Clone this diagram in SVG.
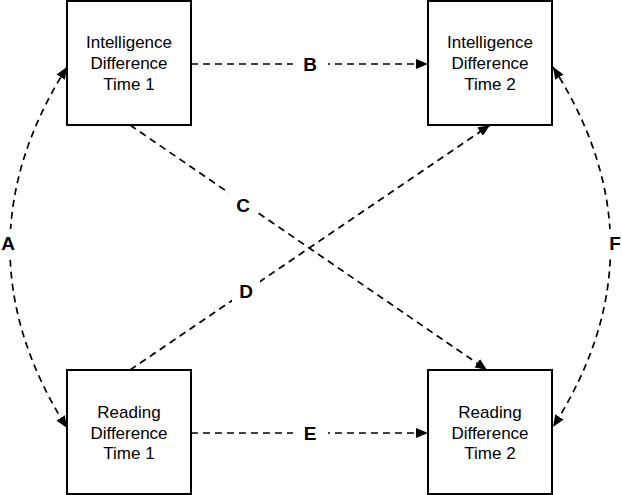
<svg xmlns="http://www.w3.org/2000/svg" width="622" height="495" viewBox="0 0 622 495">
<defs>
<marker id="ah" viewBox="0 0 12 10" refX="12" refY="5" markerWidth="12" markerHeight="10" markerUnits="userSpaceOnUse" orient="auto-start-reverse">
<path d="M0,0 L12,5 L0,10 Z" fill="#000"/>
</marker>
<style>
.box{fill:#fff;stroke:#000;stroke-width:2}
.t{font-family:"Liberation Sans",Arial,sans-serif;font-size:17px;text-anchor:middle;fill:#000}
.lbl{font-family:"Liberation Sans",Arial,sans-serif;font-size:19px;font-weight:bold;text-anchor:middle;fill:#000}
.c{fill:none;stroke:#000;stroke-width:1.7;stroke-dasharray:7 5}
.bg{fill:#fff}
</style>
</defs>
<rect width="622" height="495" fill="#fff"/>
<g id="connectors">
<path class="c" d="M191,64 L428,64" marker-end="url(#ah)"/>
<path class="c" d="M191,433 L428,433" marker-end="url(#ah)"/>
<path class="c" d="M130,125 L487,370" marker-end="url(#ah)"/>
<path class="c" d="M130,370 L490,125" marker-end="url(#ah)"/>
<path class="c" d="M67,67 Q-47,247.5 67,428" marker-start="url(#ah)" marker-end="url(#ah)"/>
<path class="c" d="M553,67 Q668,247 553,427" marker-start="url(#ah)" marker-end="url(#ah)"/>
<rect class="bg" x="293" y="52" width="35" height="24"/>
<text class="lbl" x="310" y="71">B</text>
<rect class="bg" x="293" y="421" width="35" height="24"/>
<text class="lbl" x="310" y="440">E</text>
<rect class="bg" x="229" y="192" width="28" height="26"/>
<text class="lbl" x="243" y="212">C</text>
<rect class="bg" x="232" y="278" width="28" height="26"/>
<text class="lbl" x="246" y="298">D</text>
<rect class="bg" x="0" y="229" width="18" height="28"/>
<text class="lbl" x="8" y="250">A</text>
<rect class="bg" x="605" y="229" width="18" height="28"/>
<text class="lbl" x="615" y="250">F</text>
</g>
<g id="int1">
<rect class="box" x="67" y="1" width="124" height="124"/>
<text class="t" x="129" y="48">Intelligence</text>
<text class="t" x="129" y="69">Difference</text>
<text class="t" x="129" y="90">Time 1</text>
</g>
<g id="int2">
<rect class="box" x="428" y="1" width="124" height="124"/>
<text class="t" x="490" y="48">Intelligence</text>
<text class="t" x="490" y="69">Difference</text>
<text class="t" x="490" y="90">Time 2</text>
</g>
<g id="read1">
<rect class="box" x="67" y="370" width="124" height="124"/>
<text class="t" x="129" y="418">Reading</text>
<text class="t" x="129" y="438.5">Difference</text>
<text class="t" x="129" y="459">Time 1</text>
</g>
<g id="read2">
<rect class="box" x="428" y="370" width="124" height="124"/>
<text class="t" x="490" y="418">Reading</text>
<text class="t" x="490" y="438.5">Difference</text>
<text class="t" x="490" y="459">Time 2</text>
</g>
</svg>
